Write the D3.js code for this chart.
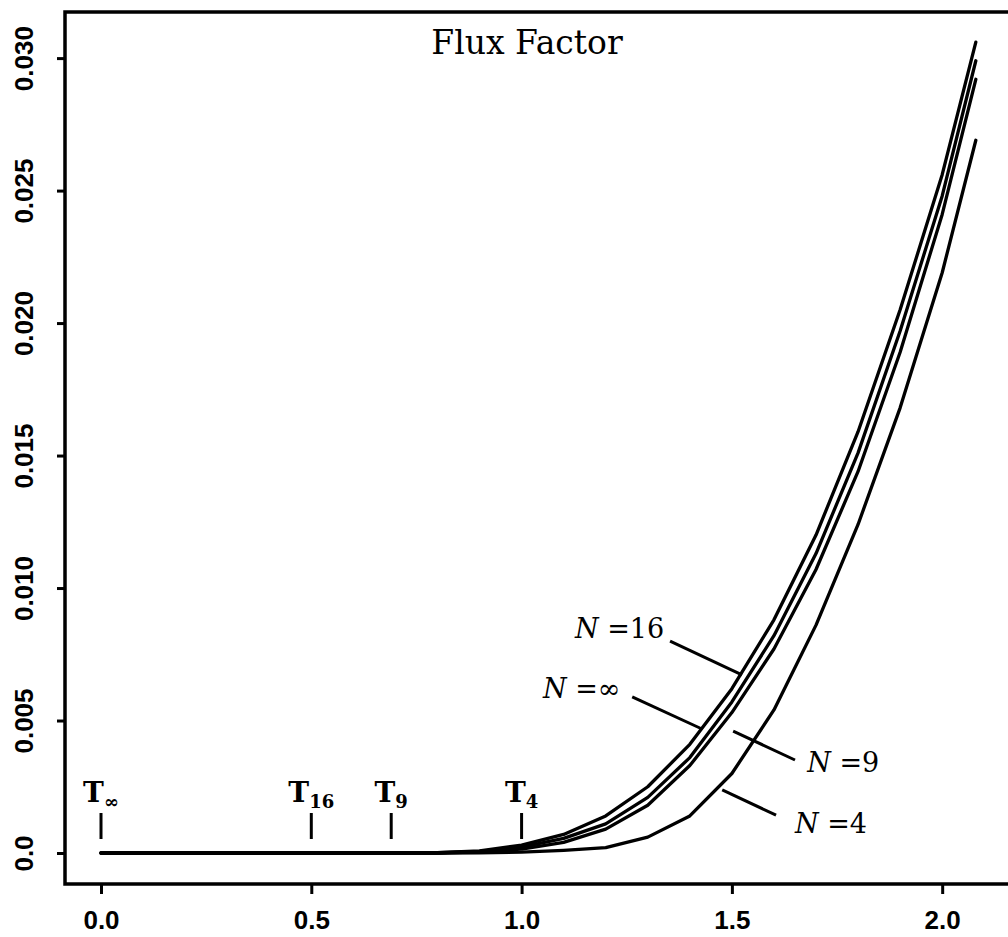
<!DOCTYPE html>
<html>
<head>
<meta charset="utf-8">
<script src="https://cdn.jsdelivr.net/npm/d3@7"></script>
<style>
  body { margin: 0; background: #fff; }
  svg { display: block; }
  .tick-label { font-family: "Liberation Sans", Arial, sans-serif; font-weight: bold; font-size: 26px; fill: #000; }
  .serif { font-family: "DejaVu Serif", serif; fill: #000; }
</style>
</head>
<body>
<svg id="chart"></svg>
<script>
const xs = [0, 0.5, 0.8, 0.9, 1.0, 1.1, 1.2, 1.3, 1.4, 1.5, 1.6, 1.7, 1.8, 1.9, 2.0, 2.08];

// flux factor for each N
const fluxN16  = [0, 0, 0.00001, 0.00008, 0.0003, 0.0007, 0.0014, 0.0025, 0.0041, 0.0062, 0.0088, 0.0120, 0.0159, 0.0205, 0.0256, 0.0306];
const fluxNInf = [0, 0, 0.00001, 0.00006, 0.00022, 0.00055, 0.0011, 0.0021, 0.0036, 0.0057, 0.0082, 0.0113, 0.0151, 0.0197, 0.0248, 0.0299];
const fluxN9   = [0, 0, 0, 0.00004, 0.00015, 0.0004, 0.0009, 0.0018, 0.0033, 0.0053, 0.0077, 0.0107, 0.0144, 0.0189, 0.0241, 0.0292];
const fluxN4   = [0, 0, 0, 0.00001, 0.00003, 0.0001, 0.0002, 0.0006, 0.0014, 0.0030, 0.0054, 0.0086, 0.0124, 0.0168, 0.0219, 0.0269];

const xTicks = [0, 0.5, 1.0, 1.5, 2.0];
const xTickLabels = ["0.0", "0.5", "1.0", "1.5", "2.0"];
const yTicks = [0, 0.005, 0.010, 0.015, 0.020, 0.025, 0.030];
const yTickLabels = ["0.0", "0.005", "0.010", "0.015", "0.020", "0.025", "0.030"];

// T_N markers along the baseline
const markerNames = ["\u221E", "16", "9", "4"];
const markerX = [0, 0.5, 0.69, 1.0];

// curve labels: text, label position, leader line start/end (data units)
const curveLabels = ["16", "\u221E", "9", "4"];
const labelX = [1.127, 1.051, 1.679, 1.650];
const labelY = [0.0081, 0.00585, 0.00306, 0.00075];
const leaderX1 = [1.353, 1.263, 1.503, 1.477];
const leaderY1 = [0.0080, 0.00589, 0.0046, 0.00238];
const leaderX2 = [1.524, 1.429, 1.650, 1.605];
const leaderY2 = [0.00672, 0.00468, 0.00351, 0.00143];

const W = 1008, H = 937;
const frame = { left: 65, right: 1012, top: 12, bottom: 884 };

const svg = d3.select('#chart').attr('width', W).attr('height', H);

const x = d3.scaleLinear().domain([-0.0856, 2.166]).range([frame.left, frame.right]);
const y = d3.scaleLinear().domain([-0.00117, 0.03174]).range([frame.bottom, frame.top]);

// frame box
svg.append('rect')
  .attr('x', frame.left).attr('y', frame.top)
  .attr('width', frame.right - frame.left).attr('height', frame.bottom - frame.top)
  .attr('fill', 'none').attr('stroke', '#000').attr('stroke-width', 3.5);

// x axis
const xAxis = svg.append('g')
  .attr('transform', `translate(0,${frame.bottom})`)
  .call(d3.axisBottom(x).tickValues(xTicks).tickSize(10).tickFormat((d, i) => xTickLabels[i]));
xAxis.select('.domain').remove();
xAxis.selectAll('.tick line').attr('stroke-width', 3);
xAxis.selectAll('.tick text').attr('class', 'tick-label').attr('y', 45).attr('dy', 0);

// y axis, labels rotated
const yAxis = svg.append('g')
  .attr('transform', `translate(${frame.left},0)`)
  .call(d3.axisLeft(y).tickValues(yTicks).tickSize(8).tickFormat((d, i) => yTickLabels[i]));
yAxis.select('.domain').remove();
yAxis.selectAll('.tick line').attr('stroke-width', 3);
yAxis.selectAll('.tick text')
  .attr('class', 'tick-label')
  .attr('x', null).attr('dy', null)
  .attr('text-anchor', 'middle')
  .attr('transform', 'translate(-32,0) rotate(-90)');

// curves (piecewise linear, as in the original plot)
const series = [fluxN16, fluxNInf, fluxN9, fluxN4];
const line = d3.line()
  .x((d, i) => x(xs[i]))
  .y(d => y(d));

svg.append('g').selectAll('path')
  .data(series)
  .enter().append('path')
  .attr('d', line)
  .attr('fill', 'none')
  .attr('stroke', '#000')
  .attr('stroke-width', 3.3)
  .attr('stroke-linejoin', 'round')
  .attr('stroke-linecap', 'round');

// T markers
const y0 = y(0);
const markers = svg.append('g').selectAll('g')
  .data(markerNames)
  .enter().append('g')
  .attr('transform', (d, i) => `translate(${x(markerX[i])},0)`);

markers.append('line')
  .attr('y1', y0 - 14).attr('y2', y0 - 40)
  .attr('stroke', '#000').attr('stroke-width', 3);

const mText = markers.append('text')
  .attr('class', 'serif')
  .attr('y', y0 - 51)
  .attr('text-anchor', 'middle')
  .attr('font-weight', 'bold');
mText.append('tspan').attr('font-size', 28).text('T');
mText.append('tspan').attr('font-size', 18).attr('dy', 6).text(d => d);

// leader lines + N labels
svg.append('g').selectAll('line')
  .data(curveLabels)
  .enter().append('line')
  .attr('x1', (d, i) => x(leaderX1[i])).attr('y1', (d, i) => y(leaderY1[i]))
  .attr('x2', (d, i) => x(leaderX2[i])).attr('y2', (d, i) => y(leaderY2[i]))
  .attr('stroke', '#000').attr('stroke-width', 3);

const nText = svg.append('g').selectAll('text')
  .data(curveLabels)
  .enter().append('text')
  .attr('class', 'serif')
  .attr('font-size', 27)
  .attr('x', (d, i) => x(labelX[i]))
  .attr('y', (d, i) => y(labelY[i]));
nText.append('tspan').attr('font-style', 'italic').text('N');
nText.append('tspan').text(d => ' =' + d);

// title
svg.append('text')
  .attr('class', 'serif')
  .attr('x', 527).attr('y', 54)
  .attr('text-anchor', 'middle')
  .attr('font-size', 33)
  .text('Flux Factor');
</script>
</body>
</html>
